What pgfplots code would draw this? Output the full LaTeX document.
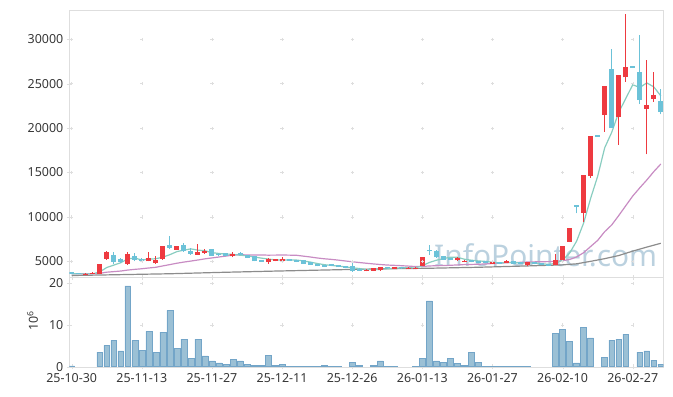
\documentclass[border=0pt]{standalone}
\usepackage{pgfplots}
\pgfplotsset{compat=1.18}
\usepackage{pgfplotstable}
\usepackage{fontspec}
\setmainfont{Noto Sans}
\definecolor{upred}{RGB}{238,58,64}
\definecolor{dncyan}{RGB}{108,194,216}
\definecolor{maA}{RGB}{137,205,192}
\definecolor{maB}{RGB}{200,140,195}
\definecolor{maC}{RGB}{140,140,140}
\definecolor{volfill}{RGB}{155,192,213}
\definecolor{voledge}{RGB}{115,165,200}
\definecolor{framec}{RGB}{222,222,222}
\definecolor{lbl}{RGB}{55,55,55}
\definecolor{wm}{RGB}{170,198,215}

\pgfplotstableread{
i o h l c
2 3440 3640 3430 3620
3 3560 3800 3520 3700
4 3620 4700 3600 4700
5 5260 6110 5200 6060
8 4750 6050 4600 5800
11 5000 6100 4980 5350
12 4800 5550 4750 5150
13 5250 6750 5200 6700
15 6300 6750 6250 6700
18 5750 6950 5700 6000
19 5950 6350 5850 6200
23 5570 6000 5450 5800
28 4920 5400 4750 5260
29 5050 5300 5000 5250
30 5030 5450 5000 5260
42 3880 4100 3860 4060
43 3960 4300 3900 4250
44 4000 4400 3950 4350
46 4150 4370 4130 4340
48 4100 4350 4080 4280
49 4100 4320 4080 4290
50 4500 5460 4450 5450
55 5110 5450 5050 5370
56 4900 5150 4870 5080
60 4720 4950 4700 4910
62 4850 5150 4820 5070
65 4550 4950 4500 4890
69 4550 5820 4530 5180
70 5200 6730 5150 6720
71 7200 8730 7150 8700
73 10450 14700 9450 14700
74 14650 19110 14400 19100
76 21450 24700 19600 24700
78 21300 25950 18100 25950
79 25700 32800 25200 26900
82 22200 27650 17050 22600
83 23250 26350 22950 23700
}\uptable

\pgfplotstableread{
i o h l c
0 3800 3850 3550 3580
1 3680 3700 3520 3540
6 5750 6000 4720 4900
7 5250 5400 4850 4900
9 5650 5900 5000 5150
10 5300 5400 4900 5000
14 6850 7850 6350 6550
16 6850 7100 6100 6200
17 6200 6500 5750 5850
20 6380 6400 5600 5650
21 5880 5950 5650 5700
22 5930 5950 5550 5570
24 5900 6100 5680 5700
25 5680 5700 5350 5380
26 5560 5580 4980 5000
27 5150 5200 4930 4950
31 5240 5260 5030 5050
32 5150 5170 4900 4920
33 5110 5120 4730 4750
34 4890 4950 4600 4620
35 4700 4720 4420 4440
36 4620 4640 4360 4380
37 4720 4740 4500 4520
38 4540 4560 4310 4330
39 4460 4480 4230 4250
40 4440 5100 3800 3880
41 4180 4200 3940 3960
45 4380 4400 4180 4200
47 4380 4400 4180 4200
51 6300 6800 5740 6120
52 6200 6250 5400 5450
53 5560 5650 5150 5180
54 5370 5400 5100 5110
57 5180 5200 4880 4890
58 5000 5020 4770 4780
59 5040 5060 4840 4850
61 4890 4900 4680 4700
63 5000 5020 4730 4750
64 4890 4900 4680 4700
66 4890 4900 4650 4700
67 4780 4800 4530 4550
68 4660 4680 4460 4480
72 11330 11330 10400 11130
75 19200 19200 19000 19000
77 26700 28950 20000 20000
80 26950 26950 26750 26750
81 26350 30450 22700 23150
84 23050 24450 21550 21850
}\dntable

\pgfplotstableread{
i m
0 3600
1 3592
2 3584
3 3584
4 3804
5 4304
6 4572
7 4840
8 5280
9 5370
10 5150
11 5240
12 5290
13 5470
14 5750
15 6090
16 6260
17 6400
18 6260
19 6190
20 5980
21 5880
22 5824
23 5784
24 5684
25 5630
26 5490
27 5366
28 5258
29 5168
30 5144
31 5154
32 5148
33 5046
34 4920
35 4756
36 4622
37 4542
38 4458
39 4384
40 4272
41 4188
42 4084
43 4068
44 4088
45 4152
46 4226
47 4266
48 4272
49 4258
50 4508
51 4872
52 5122
53 5302
54 5468
55 5452
56 5236
57 5124
58 5044
59 4992
60 4898
61 4824
62 4860
63 4854
64 4824
65 4822
66 4822
67 4718
68 4664
69 4760
70 5126
71 5926
72 7276
73 9320
74 12104
75 14580
76 17780
77 19520
78 21770
79 23330
80 24880
81 24570
82 25090
83 24640
84 23630
}\maAtable

\pgfplotstableread{
i m
0 3600
1 3598
2 3596
3 3596
4 3651
5 3776
6 3841
7 3906
8 4016
9 4094
10 4164
11 4251
12 4329
13 4484
14 4631
15 4786
16 4916
17 5029
18 5149
19 5279
20 5381
21 5488
22 5589
23 5699
24 5749
25 5713
26 5718
27 5720
28 5693
29 5698
30 5711
31 5696
32 5685
33 5587
34 5491
35 5378
36 5287
37 5220
38 5137
39 5039
40 4951
41 4864
42 4785
43 4708
44 4640
45 4581
46 4548
47 4510
48 4461
49 4413
50 4422
51 4477
52 4504
53 4525
54 4550
55 4596
56 4631
57 4649
58 4672
59 4702
60 4753
61 4790
62 4843
63 4868
64 4886
65 4920
66 4939
67 4956
68 4966
69 5011
70 5075
71 5202
72 5495
73 5971
74 6670
75 7357
76 8338
77 9094
78 10152
79 11255
80 12352
81 13275
82 14151
83 15099
84 15956
}\maBtable

\pgfplotstableread{
i m
0 3400
7 3500
14 3600
21 3750
29 3900
36 4020
44 4150
51 4220
58 4330
65 4480
70 4600
72 4720
74 5000
76 5300
78 5650
79 5900
80 6150
82 6600
84 7030
}\maCtable

\pgfplotstableread{
i v
0 0.2
4 3.5
5 5.1
6 6.3
7 3.8
8 19.4
9 6.3
10 3.9
11 8.5
12 3.5
13 8.3
14 13.5
15 4.4
16 6.6
17 2.0
18 6.6
19 2.6
20 1.4
21 0.9
22 0.6
23 1.8
24 1.4
25 0.6
26 0.4
27 0.4
28 2.7
29 0.4
30 0.6
31 0.15
32 0.15
33 0.15
34 0.15
35 0.15
36 0.4
37 0.15
38 0.15
40 1.1
41 0.4
43 0.4
44 1.4
45 0.15
46 0.15
49 0.15
50 2.0
51 15.8
52 1.4
53 1.1
54 2.0
55 0.8
56 0.4
57 3.5
58 1.1
59 0.15
60 0.15
61 0.15
62 0.15
63 0.15
64 0.15
65 0.15
69 8.0
70 9.0
71 6.0
72 0.9
73 9.4
74 6.9
76 2.2
77 6.4
78 6.6
79 7.8
81 3.5
82 3.8
83 1.6
84 0.6
}\voltable

\pgfplotsset{
  candle/.style 2 args={draw=none, mark=none, forget plot,
    error bars/.cd, y dir=plus, y explicit, error mark=none,
    error bar style={draw=#1, line width=#2}},
}

\begin{document}
\begin{tikzpicture}[x=1bp,y=1bp]
\useasboundingbox (0,0) rectangle (673,396);
\node[text=wm, opacity=0.8, font=\fontsize{30}{30}\selectfont, anchor=base west, inner sep=0pt] at (434,130) {InfoPointer.com};
\begin{axis}[
  at={(69.3bp,118.7bp)}, anchor=south west,
  scale only axis, width=594bp, height=266.6bp,
  xmin=-0.34, xmax=84.36, ymin=3200, ymax=33220,
  scaled y ticks=false, scaled x ticks=false,
  axis line style={framec},
  tick style={draw=framec},
  major tick length=5bp, tick align=center,
  xtick={0,10,...,80}, xticklabels={}, xtick pos=left,
  ytick={5000,10000,15000,20000,25000,30000},
  yticklabels={5000,10000,15000,20000,25000,30000},
  ytick pos=left,
  yticklabel style={font=\fontsize{12.5}{12.5}\selectfont, text=lbl},
]
\pgfplotsinvokeforeach{0,10,...,80}{
  \addplot[only marks, mark=+, mark size=1.6bp, framec] coordinates {(#1,5000) (#1,10000) (#1,15000) (#1,20000) (#1,25000) (#1,30000)};
}
\addplot[maC, line width=1.2bp] table[x=i, y=m] {\maCtable};
\addplot[maB, line width=1.2bp] table[x=i, y=m] {\maBtable};
\addplot[maA, line width=1.2bp] table[x=i, y=m] {\maAtable};
% wicks
\addplot[candle={upred}{1bp}] table[x=i, y=l, y error plus expr=\thisrow{h}-\thisrow{l}] {\uptable};
\addplot[candle={dncyan}{1bp}] table[x=i, y=l, y error plus expr=\thisrow{h}-\thisrow{l}] {\dntable};
% bodies
\addplot[candle={upred}{5bp}] table[x=i, y=o, y error plus expr=\thisrow{c}-\thisrow{o}] {\uptable};
\addplot[candle={dncyan}{5bp}] table[x=i, y=c, y error plus expr=\thisrow{o}-\thisrow{c}] {\dntable};
\end{axis}
\begin{axis}[
  at={(69.3bp,29.3bp)}, anchor=south west,
  scale only axis, width=594bp, height=89.4bp,
  xmin=-0.34, xmax=84.36, ymin=0, ymax=21.44,
  scaled y ticks=false,
  axis line style={framec},
  tick style={draw=framec},
  major tick length=5bp, tick align=center,
  xtick={0,10,...,80},
  xticklabels={25-10-30,25-11-13,25-11-27,25-12-11,25-12-26,26-01-13,26-01-27,26-02-10,26-02-27},
  xtick pos=left,
  ytick={0,10,20}, yticklabels={0,10,20}, ytick pos=left,
  yticklabel style={font=\fontsize{12.5}{12.5}\selectfont, text=lbl},
  xticklabel style={font=\fontsize{12.5}{12.5}\selectfont, text=lbl, yshift=-1bp},
]
\pgfplotsinvokeforeach{10,20,...,80}{
  \addplot[only marks, mark=+, mark size=1.6bp, framec] coordinates {(#1,10) (#1,20)};
}
\addplot[ybar, bar width=0.84, fill=volfill, draw=voledge, line width=0.5bp] table[x=i, y=v] {\voltable};
\end{axis}
\node[rotate=90, text=lbl, font=\fontsize{12.5}{12.5}\selectfont] at (32.5,75) {10\textsuperscript{6}};
\end{tikzpicture}
\end{document}
